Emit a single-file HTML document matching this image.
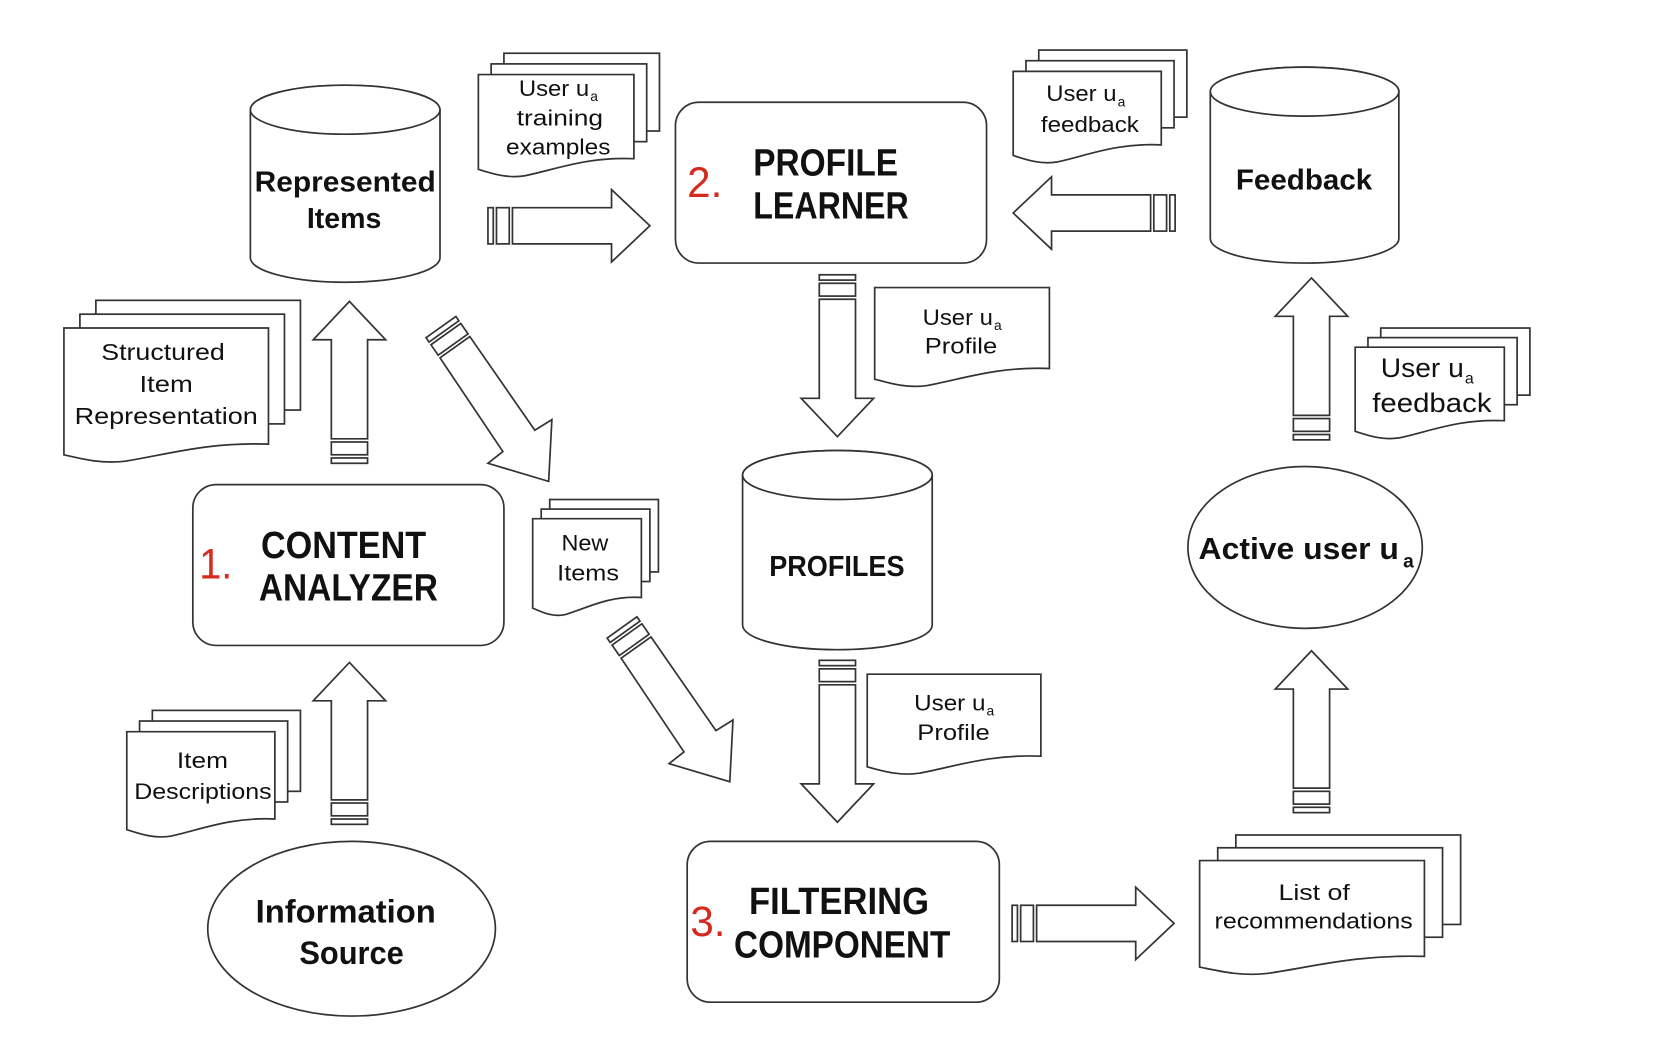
<!DOCTYPE html>
<html><head><meta charset="utf-8"><style>
html,body{margin:0;padding:0;background:#fff}
svg{display:block}
text{font-family:"Liberation Sans",sans-serif;fill:#111}
.b{font-weight:bold}
</style></head><body>
<svg width="1662" height="1048" viewBox="0 0 1560 984" preserveAspectRatio="none" xmlns="http://www.w3.org/2000/svg">
<defs>
<g id="ar">
<rect x="-17" y="-152" width="34" height="5"/><rect x="-17" y="-144" width="34" height="12"/>
<path d="M-17,-129 H17 V-36 H34 L0,0 L-34,-36 H-17 Z"/>
</g>
<g id="dg">
<polygon points="439.3,313.5 432.5,303.7 404.5,323.7 411.3,333.5"/>
<polygon points="430.7,301.2 427.9,297.1 399.9,317.1 402.7,321.2"/>
<polygon points="441,316 502,404 518,394 515,452 458,435 472,424 413,336"/>
</g>
</defs>
<g fill="#fff" stroke="#333" stroke-width="1.6">
<!-- cylinders -->
<path d="M235,103 V242 A89,23 0 0 0 413,242 V103 A89,23 0 0 0 235,103 Z"/><ellipse cx="324" cy="103" rx="89" ry="23"/>
<path d="M1136,86 V224 A88.5,23 0 0 0 1313,224 V86 A88.5,23 0 0 0 1136,86 Z"/><ellipse cx="1224.5" cy="86" rx="88.5" ry="23"/>
<path d="M697,446 V587 A89,23 0 0 0 875,587 V446 A89,23 0 0 0 697,446 Z"/><ellipse cx="786" cy="446" rx="89" ry="23"/>
<!-- boxes -->
<rect x="634" y="96" width="292" height="151" rx="22"/>
<rect x="181" y="455" width="292" height="151" rx="22"/>
<rect x="645" y="790" width="293" height="151" rx="22"/>
<ellipse cx="330" cy="872" rx="135" ry="82"/><ellipse cx="1225" cy="514" rx="110" ry="76"/>
<!-- docs -->
<rect x="473" y="50" width="146" height="73"/><rect x="461" y="60" width="146" height="73"/>
<path d="M449,70 H595 V149 C551.2,147 522,159 492.8,165 C475.3,168 459.2,162 449,159 Z"/>
<rect x="975" y="47" width="139" height="63"/><rect x="963" y="57" width="139" height="63"/>
<path d="M951,67 H1090 V136 C1048.3,134 1020.5,146 992.7,152 C976,155 960.7,149 951,146 Z"/>
<rect x="90" y="282" width="192" height="103"/><rect x="75" y="295" width="192" height="103"/>
<path d="M60,308 H252 V417 C194.4,415 156,427 117.6,433 C94.6,436 73.4,430 60,427 Z"/>
<path d="M821,270 H985 V346 C935.8,344 903,356 870.2,362 C850.5,365 832.5,359 821,356 Z"/>
<rect x="1296" y="308" width="140" height="63"/><rect x="1284" y="317" width="140" height="63"/>
<path d="M1272,326 H1412 V395 C1370,393 1342,405 1314,411 C1297.2,414 1281.8,408 1272,405 Z"/>
<rect x="516" y="469" width="102" height="68"/><rect x="508" y="478" width="102" height="68"/>
<path d="M500,487 H602 V561 C571.4,559 551,571 530.6,577 C518.4,580 507.1,574 500,571 Z"/>
<path d="M814,633 H977 V710 C928.1,708 895.5,720 862.9,726 C843.3,729 825.4,723 814,720 Z"/>
<rect x="143" y="667" width="139" height="76"/><rect x="131" y="677" width="139" height="76"/>
<path d="M119,687 H258 V769 C216.3,767 188.5,779 160.7,785 C144,788 128.7,782 119,779 Z"/>
<rect x="1160" y="784" width="211" height="84"/><rect x="1143" y="796" width="211" height="84"/>
<path d="M1126,808 H1337 V898 C1273.7,896 1231.5,908 1189.3,914 C1164,917 1140.8,911 1126,908 Z"/>
<!-- arrows -->
<use href="#ar" transform="translate(786,410)"/>
<use href="#ar" transform="translate(786,772)"/>
<use href="#ar" transform="translate(328,283) rotate(180)"/>
<use href="#ar" transform="translate(328,622) rotate(180)"/>
<use href="#ar" transform="translate(1231,261) rotate(180)"/>
<use href="#ar" transform="translate(1231,611) rotate(180)"/>
<use href="#ar" transform="translate(610,212) rotate(-90)"/>
<use href="#ar" transform="translate(951,200) rotate(90)"/>
<use href="#ar" transform="translate(1102,867) rotate(-90)"/>
<use href="#dg"/>
<use href="#dg" transform="translate(170,282)"/>
</g>
<g>
<text class="b" x="239" y="180" font-size="27" textLength="170" lengthAdjust="spacingAndGlyphs">Represented</text>
<text class="b" x="288" y="214" font-size="27" textLength="70" lengthAdjust="spacingAndGlyphs">Items</text>
<text class="b" x="1160" y="178" font-size="27" textLength="128" lengthAdjust="spacingAndGlyphs">Feedback</text>
<text class="b" x="722" y="541" font-size="27" textLength="127" lengthAdjust="spacingAndGlyphs">PROFILES</text>
<text class="b" x="707" y="165" font-size="36" textLength="136" lengthAdjust="spacingAndGlyphs">PROFILE</text>
<text class="b" x="707" y="205" font-size="36" textLength="146" lengthAdjust="spacingAndGlyphs">LEARNER</text>
<text x="645" y="185" font-size="40" style="fill:#d62a1e" textLength="33" lengthAdjust="spacingAndGlyphs">2.</text>
<text class="b" x="245" y="524" font-size="36" textLength="155" lengthAdjust="spacingAndGlyphs">CONTENT</text>
<text class="b" x="243" y="564" font-size="36" textLength="168" lengthAdjust="spacingAndGlyphs">ANALYZER</text>
<text x="187" y="543" font-size="40" style="fill:#d62a1e" textLength="31" lengthAdjust="spacingAndGlyphs">1.</text>
<text class="b" x="703" y="858" font-size="36" textLength="169" lengthAdjust="spacingAndGlyphs">FILTERING</text>
<text class="b" x="689" y="899" font-size="36" textLength="203" lengthAdjust="spacingAndGlyphs">COMPONENT</text>
<text x="648" y="879" font-size="40" style="fill:#d62a1e" textLength="33" lengthAdjust="spacingAndGlyphs">3.</text>
<text class="b" x="240" y="866" font-size="30" textLength="169" lengthAdjust="spacingAndGlyphs">Information</text>
<text class="b" x="281" y="905" font-size="30" textLength="98" lengthAdjust="spacingAndGlyphs">Source</text>
<text class="b" x="1125" y="525" font-size="29" textLength="188" lengthAdjust="spacingAndGlyphs">Active user u</text>
<text class="b" x="1317" y="533" font-size="18">a</text>
<text x="487" y="90" font-size="21" textLength="66" lengthAdjust="spacingAndGlyphs">User u</text><text x="554" y="95" font-size="13">a</text>
<text x="485" y="118" font-size="21" textLength="81" lengthAdjust="spacingAndGlyphs">training</text>
<text x="475" y="145" font-size="21" textLength="98" lengthAdjust="spacingAndGlyphs">examples</text>
<text x="982" y="95" font-size="21" textLength="66" lengthAdjust="spacingAndGlyphs">User u</text><text x="1049" y="100" font-size="13">a</text>
<text x="977" y="124" font-size="21" textLength="92" lengthAdjust="spacingAndGlyphs">feedback</text>
<text x="95" y="338" font-size="22" textLength="116" lengthAdjust="spacingAndGlyphs">Structured</text>
<text x="131" y="368" font-size="22" textLength="50" lengthAdjust="spacingAndGlyphs">Item</text>
<text x="70" y="398" font-size="22" textLength="172" lengthAdjust="spacingAndGlyphs">Representation</text>
<text x="866" y="305" font-size="21" textLength="66" lengthAdjust="spacingAndGlyphs">User u</text><text x="933" y="310" font-size="13">a</text>
<text x="868" y="332" font-size="21" textLength="68" lengthAdjust="spacingAndGlyphs">Profile</text>
<text x="1296" y="354" font-size="25" textLength="78" lengthAdjust="spacingAndGlyphs">User u</text><text x="1375" y="360" font-size="15">a</text>
<text x="1288" y="387" font-size="25" textLength="112" lengthAdjust="spacingAndGlyphs">feedback</text>
<text x="527" y="517" font-size="21" textLength="44" lengthAdjust="spacingAndGlyphs">New</text>
<text x="523" y="545" font-size="21" textLength="58" lengthAdjust="spacingAndGlyphs">Items</text>
<text x="858" y="667" font-size="21" textLength="67" lengthAdjust="spacingAndGlyphs">User u</text><text x="926" y="672" font-size="13">a</text>
<text x="861" y="695" font-size="21" textLength="68" lengthAdjust="spacingAndGlyphs">Profile</text>
<text x="166" y="721" font-size="21" textLength="48" lengthAdjust="spacingAndGlyphs">Item</text>
<text x="126" y="750" font-size="21" textLength="129" lengthAdjust="spacingAndGlyphs">Descriptions</text>
<text x="1200" y="845" font-size="21" textLength="67" lengthAdjust="spacingAndGlyphs">List of</text>
<text x="1140" y="872" font-size="21" textLength="186" lengthAdjust="spacingAndGlyphs">recommendations</text>
</g>
</svg>
</body></html>
